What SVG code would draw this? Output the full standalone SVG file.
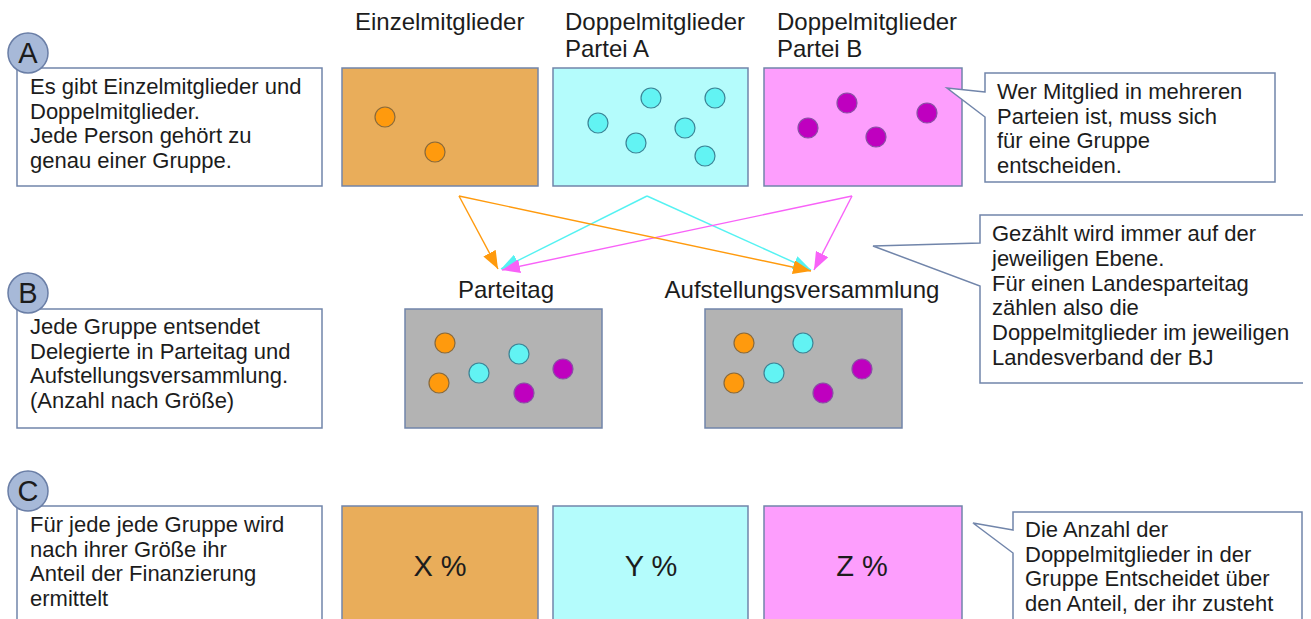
<svg xmlns="http://www.w3.org/2000/svg" width="1311" height="619" viewBox="0 0 1311 619">
<style>
text{font-family:"Liberation Sans",Arial,sans-serif;fill:#1c1c1c}
.lbl{font-size:24px}
.body{font-size:22px}
.pct{font-size:29px;text-anchor:middle}
.letter{font-size:29px;text-anchor:middle}
.box{stroke:#7185aa;stroke-width:1.5}
.note{fill:#fff;stroke:#7185aa;stroke-width:1.5}
.lc{fill:#a7b9d8;stroke:#6a7ea6;stroke-width:1.5}
.o{fill:#e9ad5a}.c{fill:#b4fcfc}.m{fill:#fd9efd}.g{fill:#b3b3b3}
.po{fill:#ff9a0d;stroke:#8a6a3a;stroke-width:1.2}
.pc{fill:#62f3f3;stroke:#3b8496;stroke-width:1.2}
.pm{fill:#bf00bf;stroke:#8a4fa6;stroke-width:1.2}
.ar{fill:none;stroke-width:1.4}
</style>
<defs>
<marker id="hO" markerUnits="userSpaceOnUse" markerWidth="20" markerHeight="14" refX="18" refY="7" orient="auto"><path d="M0,0 L18,7 L0,14 Z" fill="#ff9a0d"/></marker>
<marker id="hC" markerUnits="userSpaceOnUse" markerWidth="20" markerHeight="14" refX="18" refY="7" orient="auto"><path d="M0,0 L18,7 L0,14 Z" fill="#55f2f2"/></marker>
<marker id="hM" markerUnits="userSpaceOnUse" markerWidth="20" markerHeight="14" refX="18" refY="7" orient="auto"><path d="M0,0 L18,7 L0,14 Z" fill="#f862f8"/></marker>
</defs>
<rect width="1311" height="619" fill="#fff"/>

<g id="noteA">
<rect class="note" x="17" y="68" width="305" height="118"/>
<circle class="lc" cx="28" cy="53" r="20"/>
<text class="letter" x="28" y="63">A</text>
<text class="body"><tspan x="30" y="94">Es gibt Einzelmitglieder und</tspan><tspan x="30" y="118.5">Doppelmitglieder.</tspan><tspan x="30" y="143">Jede Person gehört zu</tspan><tspan x="30" y="167.5">genau einer Gruppe.</tspan></text>
</g>

<g id="einzel">
<text class="lbl" x="355" y="30">Einzelmitglieder</text>
<rect class="box o" x="342" y="68" width="196" height="118"/>
<circle class="po" cx="385" cy="117" r="10"/>
<circle class="po" cx="435" cy="152" r="10"/>
</g>

<g id="parteiA">
<text class="lbl"><tspan x="565" y="30">Doppelmitglieder</tspan><tspan x="565" y="57">Partei A</tspan></text>
<rect class="box c" x="553" y="68" width="195" height="118"/>
<circle class="pc" cx="651" cy="98" r="10"/>
<circle class="pc" cx="715" cy="98" r="10"/>
<circle class="pc" cx="598" cy="123" r="10"/>
<circle class="pc" cx="685" cy="128" r="10"/>
<circle class="pc" cx="636" cy="143" r="10"/>
<circle class="pc" cx="705" cy="156" r="10"/>
</g>

<g id="parteiB">
<text class="lbl"><tspan x="777" y="30">Doppelmitglieder</tspan><tspan x="777" y="57">Partei B</tspan></text>
<rect class="box m" x="764" y="68" width="198" height="118"/>
<circle class="pm" cx="847" cy="103" r="10"/>
<circle class="pm" cx="927" cy="113" r="10"/>
<circle class="pm" cx="808" cy="128" r="10"/>
<circle class="pm" cx="876" cy="137" r="10"/>
</g>

<g id="noteTop">
<path class="note" d="M985,92 L947,88 L985,117 L985,182 L1275,182 L1275,73 L985,73 Z"/>
<text class="body"><tspan x="997" y="99">Wer Mitglied in mehreren</tspan><tspan x="997" y="123.5">Parteien ist, muss sich</tspan><tspan x="997" y="148">für eine Gruppe</tspan><tspan x="997" y="172.5">entscheiden.</tspan></text>
</g>

<g id="connectors">
<line class="ar" x1="647" y1="196" x2="501" y2="269" stroke="#55f2f2" marker-end="url(#hC)"/>
<line class="ar" x1="647" y1="196" x2="811" y2="270" stroke="#55f2f2" marker-end="url(#hC)"/>
<line class="ar" x1="852" y1="196" x2="502" y2="270" stroke="#f862f8" marker-end="url(#hM)"/>
<line class="ar" x1="852" y1="196" x2="814" y2="270" stroke="#f862f8" marker-end="url(#hM)"/>
<line class="ar" x1="459" y1="196" x2="498" y2="269" stroke="#ff9a0d" marker-end="url(#hO)"/>
<line class="ar" x1="459" y1="196" x2="811" y2="271" stroke="#ff9a0d" marker-end="url(#hO)"/>
</g>

<g id="noteB">
<rect class="note" x="17" y="309" width="305" height="119"/>
<circle class="lc" cx="28" cy="293" r="20"/>
<text class="letter" x="28" y="303">B</text>
<text class="body"><tspan x="30" y="334">Jede Gruppe entsendet</tspan><tspan x="30" y="358.5">Delegierte in Parteitag und</tspan><tspan x="30" y="383">Aufstellungsversammlung.</tspan><tspan x="30" y="407.5">(Anzahl nach Größe)</tspan></text>
</g>

<g id="parteitag">
<text class="lbl" x="506" y="298" text-anchor="middle">Parteitag</text>
<rect class="box g" x="405" y="309" width="197" height="119"/>
<circle class="po" cx="445" cy="343" r="10"/>
<circle class="po" cx="439" cy="383" r="10"/>
<circle class="pc" cx="479" cy="373" r="10"/>
<circle class="pc" cx="519" cy="354" r="10"/>
<circle class="pm" cx="563" cy="369" r="10"/>
<circle class="pm" cx="524" cy="393" r="10"/>
</g>

<g id="aufstellung">
<text class="lbl" x="802" y="298" text-anchor="middle">Aufstellungsversammlung</text>
<rect class="box g" x="705" y="309" width="197" height="119"/>
<circle class="po" cx="744" cy="343" r="10"/>
<circle class="po" cx="734" cy="383" r="10"/>
<circle class="pc" cx="803" cy="343" r="10"/>
<circle class="pc" cx="774" cy="373" r="10"/>
<circle class="pm" cx="862" cy="369" r="10"/>
<circle class="pm" cx="823" cy="393" r="10"/>
</g>

<g id="noteMid">
<path class="note" d="M1303,383 L980,383 L980,286 L873,246 L980,243 L980,215 L1303,215" />
<text class="body"><tspan x="992" y="241">Gezählt wird immer auf der</tspan><tspan x="992" y="265.8">jeweiligen Ebene.</tspan><tspan x="992" y="290.6">Für einen Landesparteitag</tspan><tspan x="992" y="315.4">zählen also die</tspan><tspan x="992" y="340.2">Doppelmitglieder im jeweiligen</tspan><tspan x="992" y="365">Landesverband der BJ</tspan></text>
</g>

<g id="noteC">
<rect class="note" x="17" y="506" width="305" height="125"/>
<circle class="lc" cx="28" cy="491" r="20"/>
<text class="letter" x="28" y="501">C</text>
<text class="body"><tspan x="30" y="532">Für jede jede Gruppe wird</tspan><tspan x="30" y="556.5">nach ihrer Größe ihr</tspan><tspan x="30" y="581">Anteil der Finanzierung</tspan><tspan x="30" y="605.5">ermittelt</tspan></text>
</g>

<g id="anteilX">
<rect class="box o" x="342" y="506" width="196" height="125"/>
<text class="pct" x="440" y="576">X %</text>
</g>
<g id="anteilY">
<rect class="box c" x="553" y="506" width="195" height="125"/>
<text class="pct" x="651" y="576">Y %</text>
</g>
<g id="anteilZ">
<rect class="box m" x="764" y="506" width="198" height="125"/>
<text class="pct" x="862" y="576">Z %</text>
</g>

<g id="noteBottom">
<path class="note" d="M1013,530 L973,523 L1013,553 L1013,630 L1302,630 L1302,512 L1013,512 Z"/>
<text class="body"><tspan x="1025" y="537">Die Anzahl der</tspan><tspan x="1025" y="561.5">Doppelmitglieder in der</tspan><tspan x="1025" y="586">Gruppe Entscheidet über</tspan><tspan x="1025" y="610.5">den Anteil, der ihr zusteht</tspan></text>
</g>
</svg>
